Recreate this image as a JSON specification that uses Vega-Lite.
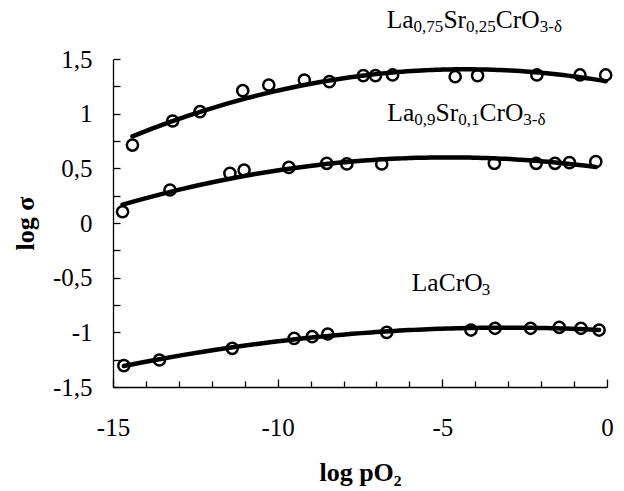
{
  "$schema": "https://vega.github.io/schema/vega-lite/v6.json",
  "autosize": {"type": "none"},
  "width": 494,
  "height": 328,
  "padding": {"left": 113, "top": 59, "right": 17, "bottom": 104},
  "background": "white",
  "config": {
    "view": {"stroke": null},
    "font": "Liberation Serif",
    "axis": {
      "grid": false,
      "ticks": true,
      "domainColor": "black",
      "domainWidth": 1.3,
      "tickColor": "black",
      "tickWidth": 1.3,
      "labelColor": "black",
      "titleColor": "black",
      "labelFont": "Liberation Serif",
      "titleFont": "Liberation Serif",
      "labelFontSize": 25,
      "titleFontSize": 26,
      "titleFontWeight": "bold",
      "labelOverlap": false,
      "labelFlush": false,
      "labelBound": false
    }
  },
  "datasets": {
    "points": [
      {"series": "La0.75Sr0.25CrO3", "x": -14.41, "y": 0.713},
      {"series": "La0.75Sr0.25CrO3", "x": -13.19, "y": 0.933},
      {"series": "La0.75Sr0.25CrO3", "x": -12.36, "y": 1.018},
      {"series": "La0.75Sr0.25CrO3", "x": -11.06, "y": 1.21},
      {"series": "La0.75Sr0.25CrO3", "x": -10.27, "y": 1.262},
      {"series": "La0.75Sr0.25CrO3", "x": -9.19, "y": 1.308},
      {"series": "La0.75Sr0.25CrO3", "x": -8.43, "y": 1.293},
      {"series": "La0.75Sr0.25CrO3", "x": -7.4, "y": 1.348},
      {"series": "La0.75Sr0.25CrO3", "x": -7.03, "y": 1.348},
      {"series": "La0.75Sr0.25CrO3", "x": -6.51, "y": 1.354},
      {"series": "La0.75Sr0.25CrO3", "x": -4.61, "y": 1.338},
      {"series": "La0.75Sr0.25CrO3", "x": -3.93, "y": 1.348},
      {"series": "La0.75Sr0.25CrO3", "x": -2.13, "y": 1.354},
      {"series": "La0.75Sr0.25CrO3", "x": -0.82, "y": 1.354},
      {"series": "La0.75Sr0.25CrO3", "x": -0.04, "y": 1.354},
      {"series": "La0.9Sr0.1CrO3", "x": -14.71, "y": 0.103},
      {"series": "La0.9Sr0.1CrO3", "x": -13.27, "y": 0.302},
      {"series": "La0.9Sr0.1CrO3", "x": -11.45, "y": 0.454},
      {"series": "La0.9Sr0.1CrO3", "x": -11.02, "y": 0.485},
      {"series": "La0.9Sr0.1CrO3", "x": -9.66, "y": 0.509},
      {"series": "La0.9Sr0.1CrO3", "x": -8.51, "y": 0.546},
      {"series": "La0.9Sr0.1CrO3", "x": -7.9, "y": 0.54},
      {"series": "La0.9Sr0.1CrO3", "x": -6.84, "y": 0.54},
      {"series": "La0.9Sr0.1CrO3", "x": -3.42, "y": 0.546},
      {"series": "La0.9Sr0.1CrO3", "x": -2.15, "y": 0.546},
      {"series": "La0.9Sr0.1CrO3", "x": -1.58, "y": 0.546},
      {"series": "La0.9Sr0.1CrO3", "x": -1.14, "y": 0.552},
      {"series": "La0.9Sr0.1CrO3", "x": -0.34, "y": 0.561},
      {"series": "LaCrO3", "x": -14.67, "y": -1.305},
      {"series": "LaCrO3", "x": -13.59, "y": -1.253},
      {"series": "LaCrO3", "x": -11.38, "y": -1.146},
      {"series": "LaCrO3", "x": -9.5, "y": -1.055},
      {"series": "LaCrO3", "x": -8.95, "y": -1.04},
      {"series": "LaCrO3", "x": -8.48, "y": -1.015},
      {"series": "LaCrO3", "x": -6.69, "y": -1.0},
      {"series": "LaCrO3", "x": -4.13, "y": -0.979},
      {"series": "LaCrO3", "x": -3.4, "y": -0.963},
      {"series": "LaCrO3", "x": -2.32, "y": -0.963},
      {"series": "LaCrO3", "x": -1.45, "y": -0.954},
      {"series": "LaCrO3", "x": -0.79, "y": -0.963},
      {"series": "LaCrO3", "x": -0.24, "y": -0.979}
    ],
    "labels": [
      {"text": "La", "role": "base", "x": -6.689, "y": 1.781},
      {"text": "0,75", "role": "sub", "x": -5.872, "y": 1.781},
      {"text": "Sr", "role": "base", "x": -4.968, "y": 1.781},
      {"text": "0,25", "role": "sub", "x": -4.279, "y": 1.781},
      {"text": "CrO", "role": "base", "x": -3.375, "y": 1.781},
      {"text": "3-δ", "role": "sub", "x": -2.042, "y": 1.781},
      {"text": "La", "role": "base", "x": -6.67, "y": 0.933},
      {"text": "0,9", "role": "sub", "x": -5.853, "y": 0.933},
      {"text": "Sr", "role": "base", "x": -5.208, "y": 0.933},
      {"text": "0,1", "role": "sub", "x": -4.519, "y": 0.933},
      {"text": "CrO", "role": "base", "x": -3.873, "y": 0.933},
      {"text": "3-δ", "role": "sub", "x": -2.54, "y": 0.933},
      {"text": "LaCrO", "role": "base", "x": -5.929, "y": -0.622},
      {"text": "3", "role": "sub", "x": -3.8, "y": -0.622}
    ]
  },
  "resolve": {"axis": {"x": "independent", "y": "independent"}},
  "layer": [
    {
      "data": {"name": "points"},
      "transform": [
        {"regression": "y", "on": "x", "groupby": ["series"], "method": "poly", "order": 2}
      ],
      "mark": {"type": "line", "color": "black", "strokeWidth": 4.5, "strokeCap": "round"},
      "encoding": {
        "x": {
          "field": "x",
          "type": "quantitative",
          "scale": {"domain": [-15, 0], "nice": false, "zero": false},
          "axis": {
            "orient": "top",
            "offset": -328,
            "title": "log pO₂",
            "values": [-15, -10, -5, 0],
            "labelExpr": "replace(toString(datum.value), '−', '-')",
            "tickSize": 8,
            "labelPadding": -36,
            "labelBaseline": "top",
            "titleX": 247,
            "titleY": 93,
            "titleAlign": "center",
            "titleBaseline": "alphabetic"
          }
        },
        "y": {
          "field": "y",
          "type": "quantitative",
          "scale": {"domain": [-1.5, 1.5], "nice": false, "zero": false},
          "axis": {
            "orient": "right",
            "offset": -494,
            "title": "log σ",
            "values": [-1.5, -1, -0.5, 0, 0.5, 1, 1.5],
            "labelExpr": "(datum.value < 0 ? '-' : '') + replace(toString(abs(datum.value)), '.', ',')",
            "labelAlign": "right",
            "tickSize": 7,
            "labelPadding": -28,
            "titleX": -88,
            "titleY": 164,
            "titleAngle": -90,
            "titleAlign": "center",
            "titleBaseline": "middle"
          }
        },
        "detail": {"field": "series"}
      }
    },
    {
      "data": {"name": "points"},
      "mark": {"type": "point", "shape": "circle", "filled": false, "color": "black", "strokeWidth": 2.5, "size": 125, "opacity": 1},
      "encoding": {
        "x": {
          "field": "x",
          "type": "quantitative",
          "axis": {
            "orient": "top",
            "offset": -328,
            "title": null,
            "labels": false,
            "domain": false,
            "values": [-14, -13, -12, -11, -9, -8, -7, -6, -4, -3, -2, -1],
            "tickSize": 6
          }
        },
        "y": {
          "field": "y",
          "type": "quantitative",
          "axis": {
            "orient": "right",
            "offset": -494,
            "title": null,
            "labels": false,
            "domain": false,
            "values": [-1.25, -0.75, -0.25, 0.25, 0.75, 1.25],
            "tickSize": 7
          }
        }
      }
    },
    {
      "data": {"name": "labels"},
      "transform": [{"filter": "datum.role == 'base'"}],
      "mark": {"type": "text", "align": "left", "baseline": "alphabetic", "fontSize": 25.5, "font": "Liberation Serif", "color": "black"},
      "encoding": {
        "x": {"field": "x", "type": "quantitative", "axis": null},
        "y": {"field": "y", "type": "quantitative", "axis": null},
        "text": {"field": "text"}
      }
    },
    {
      "data": {"name": "labels"},
      "transform": [{"filter": "datum.role == 'sub'"}],
      "mark": {"type": "text", "align": "left", "baseline": "alphabetic", "fontSize": 17, "dy": 4, "font": "Liberation Serif", "color": "black"},
      "encoding": {
        "x": {"field": "x", "type": "quantitative", "axis": null},
        "y": {"field": "y", "type": "quantitative", "axis": null},
        "text": {"field": "text"}
      }
    }
  ]
}
